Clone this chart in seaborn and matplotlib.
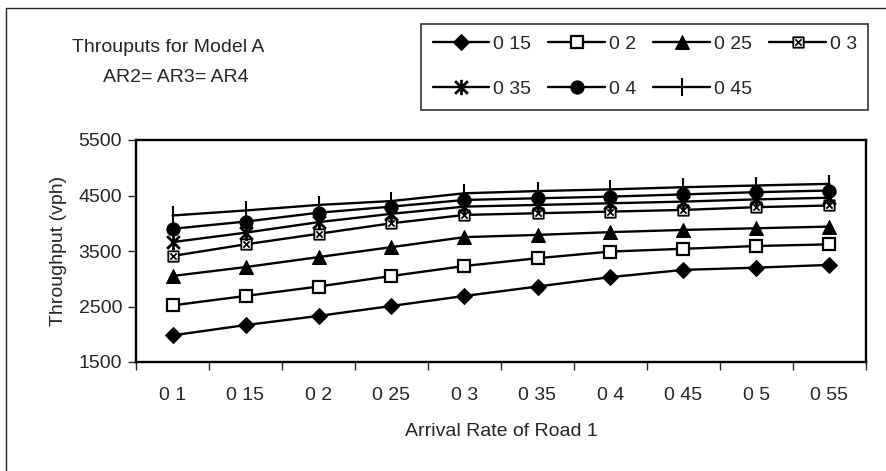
import numpy as np
import pandas as pd
import seaborn as sns
import matplotlib.pyplot as plt
from matplotlib.path import Path
from matplotlib.lines import Line2D

# --- data ---
arrival_rates = ["0 1", "0 15", "0 2", "0 25", "0 3", "0 35", "0 4", "0 45", "0 5", "0 55"]
series_labels = ["0 15", "0 2", "0 25", "0 3", "0 35", "0 4", "0 45"]

thr_015 = [1980, 2165, 2330, 2510, 2690, 2860, 3030, 3160, 3200, 3250]
thr_02 = [2520, 2690, 2860, 3050, 3230, 3370, 3490, 3540, 3590, 3620]
thr_025 = [3050, 3210, 3390, 3570, 3750, 3790, 3840, 3880, 3910, 3940]
thr_03 = [3410, 3620, 3810, 4000, 4150, 4180, 4210, 4240, 4290, 4320]
thr_035 = [3660, 3830, 4020, 4170, 4300, 4330, 4360, 4390, 4430, 4460]
thr_04 = [3900, 4030, 4190, 4300, 4420, 4450, 4480, 4520, 4560, 4590]
thr_045 = [4140, 4230, 4330, 4400, 4540, 4580, 4610, 4650, 4680, 4710]

all_series = [thr_015, thr_02, thr_025, thr_03, thr_035, thr_04, thr_045]

# --- custom Excel-like markers ---
M, L, C = Path.MOVETO, Path.LINETO, Path.CLOSEPOLY
box_x = Path([(-1, -1), (1, -1), (1, 1), (-1, 1), (-1, -1),
              (-0.6, -0.6), (0.6, 0.6), (-0.6, 0.6), (0.6, -0.6)],
             [M, L, L, L, C, M, L, M, L])
star = Path([(-1, -1), (1, 1), (-1, 1), (1, -1), (0, -1.2), (0, 1.2)],
            [M, L, M, L, M, L])

marker_styles = [
    dict(marker="D", ms=8.5, mfc="black", mec="black"),
    dict(marker="s", ms=8.5, mfc="white", mec="black", mew=1.6),
    dict(marker="^", ms=9.5, mfc="black", mec="black"),
    dict(marker=box_x, ms=7.5, mfc="white", mec="black", mew=1.3),
    dict(marker=star, ms=11, mfc="none", mec="black", mew=2),
    dict(marker="o", ms=9.5, mfc="black", mec="black"),
    dict(marker="|", ms=13, mfc="black", mec="black", mew=1.5),
]

sns.set_style("white")
plt.rcParams['font.family'] = ['Liberation Sans', 'DejaVu Sans']
FS = 14

fig = plt.figure(figsize=(8.86, 4.71), dpi=100)
ax = fig.add_axes([136 / 886, 1 - 362 / 471, 730 / 886, 222 / 471])

for label, vals, mk in zip(series_labels, all_series, marker_styles):
    df = pd.DataFrame({"rate": arrival_rates, "thr": vals})
    sns.lineplot(data=df, x="rate", y="thr", ax=ax, color="black", lw=1.7,
                 label=label, sort=False, **mk)

ax.set_xlim(-0.5, 9.5)
ax.set_ylim(1500, 5500)
ax.set_yticks([1500, 2500, 3500, 4500, 5500])
ax.set_xticks(np.arange(10))
ax.set_xticklabels(arrival_rates)
ax.set_xticks(np.arange(-0.5, 10, 1), minor=True)
ax.tick_params(axis="x", which="major", length=0, pad=18, labelsize=FS)
ax.tick_params(axis="x", which="minor", length=6, width=1, direction="out", bottom=True)
ax.tick_params(axis="y", length=6, width=1, direction="out", left=True, labelsize=FS, pad=4)

for sp in ax.spines.values():
    sp.set_color("black")
    sp.set_linewidth(1.7)

ax.set_xlabel("Arrival Rate of Road 1", fontsize=FS, labelpad=14)
ax.set_ylabel("Throughput (vph)", fontsize=FS, labelpad=8)

# legend entries filled row by row, as in the original
handles, labels = ax.get_legend_handles_labels()
order = [0, 4, 1, 5, 2, 6, 3]
leg = ax.legend([handles[i] for i in order], [labels[i] for i in order],
                loc="upper left", bbox_to_anchor=(421 / 886, 1 - 24 / 471),
                bbox_transform=fig.transFigure, ncol=4, frameon=True,
                fancybox=False, fontsize=FS, handlelength=2.9, handletextpad=0.2,
                columnspacing=0.9, labelspacing=1.4, borderpad=0.6,
                borderaxespad=0)
leg.get_frame().set_edgecolor("black")
leg.get_frame().set_linewidth(1.2)

fig.text(72 / 886, 1 - 48 / 471, "Throuputs for Model A", fontsize=FS, ha="left", va="center")
fig.text(103 / 886, 1 - 77 / 471, "AR2= AR3= AR4", fontsize=FS, ha="left", va="center")

# outer chart border (left and top edges visible in the scan)
fig.add_artist(Line2D([6 / 886, 6 / 886], [0.0, 1 - 8 / 471], transform=fig.transFigure,
                      color="#222222", lw=1))
fig.add_artist(Line2D([6 / 886, 1.0], [1 - 8 / 471, 1 - 8 / 471], transform=fig.transFigure,
                      color="#222222", lw=1))

fig.savefig("out.png", dpi=100)
